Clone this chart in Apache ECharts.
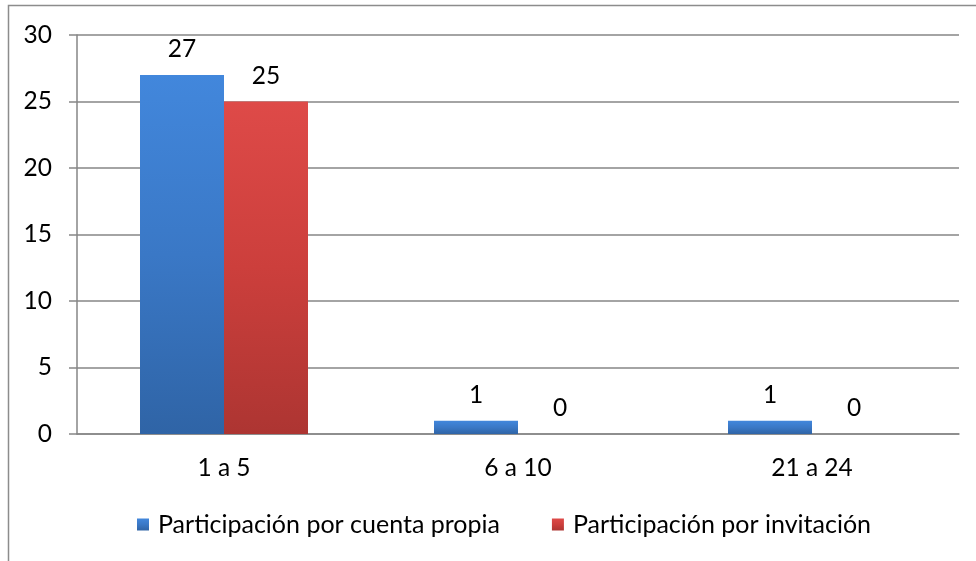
<!DOCTYPE html>
<html>
<head>
<meta charset="utf-8">
<script src="https://cdn.jsdelivr.net/npm/echarts@6/dist/echarts.min.js"></script>
<style>
html,body{margin:0;padding:0;background:#fff;}
#c{width:976px;height:561px;}
</style>
</head>
<body>
<div id="c"></div>
<script>
var categories = ["1 a 5", "6 a 10", "21 a 24"];
var seriesNames = ["Participación por cuenta propia", "Participación por invitación"];
var propia = [27, 1, 1];
var invitacion = [25, 0, 0];
var yTicks = { min: 0, max: 30, interval: 5 };

var FONT = "Lato";
var FS = 24.5;
var chart = echarts.init(document.getElementById('c'));

function grad(top, mid, bottom) {
  return new echarts.graphic.LinearGradient(0, 0, 0, 1, [
    { offset: 0, color: top },
    { offset: 0.5, color: mid },
    { offset: 1, color: bottom }
  ]);
}

var labelStyle = { show: true, position: 'top', distance: 13, color: '#000', fontFamily: FONT, fontSize: FS };

chart.setOption({
  animation: false,
  textStyle: { fontFamily: FONT },
  graphic: [{
    type: 'polyline',
    shape: { points: [[8.5, 561], [8.5, 5.5], [976, 5.5]] },
    style: { stroke: '#8c8c8c', lineWidth: 1.5, fill: null },
    silent: true
  }],
  grid: { left: 77, right: 17, top: 35, bottom: 127, containLabel: false },
  legend: {
    top: 507,
    left: 132,
    icon: 'rect',
    itemWidth: 12,
    itemHeight: 12,
    itemGap: 52,
    textStyle: { fontFamily: FONT, fontSize: 25, color: '#000', padding: [0, 0, 0, 4] },
    data: seriesNames
  },
  xAxis: {
    type: 'category',
    data: categories,
    axisLine: { lineStyle: { color: '#868686', width: 1.5 } },
    axisTick: { show: false },
    axisLabel: { color: '#000', fontFamily: FONT, fontSize: FS, margin: 22 }
  },
  yAxis: {
    type: 'value',
    min: yTicks.min,
    max: yTicks.max,
    interval: yTicks.interval,
    axisLine: { show: true, lineStyle: { color: '#868686', width: 1.5 } },
    axisTick: { show: true, length: 8, lineStyle: { color: '#868686', width: 1.5 } },
    splitLine: { lineStyle: { color: '#868686', width: 1.5 } },
    axisLabel: { color: '#000', fontFamily: FONT, fontSize: FS, margin: 25 }
  },
  series: [
    {
      name: seriesNames[0],
      type: 'bar',
      data: propia,
      barWidth: 84,
      barGap: '0%',
      itemStyle: { color: grad('#4287dc', '#3a78c6', '#2f64a6') },
      label: labelStyle
    },
    {
      name: seriesNames[1],
      type: 'bar',
      data: invitacion,
      barWidth: 84,
      barGap: '0%',
      itemStyle: { color: grad('#de4a48', '#cc3f3c', '#ad3532') },
      label: labelStyle
    }
  ]
});
</script>
</body>
</html>
